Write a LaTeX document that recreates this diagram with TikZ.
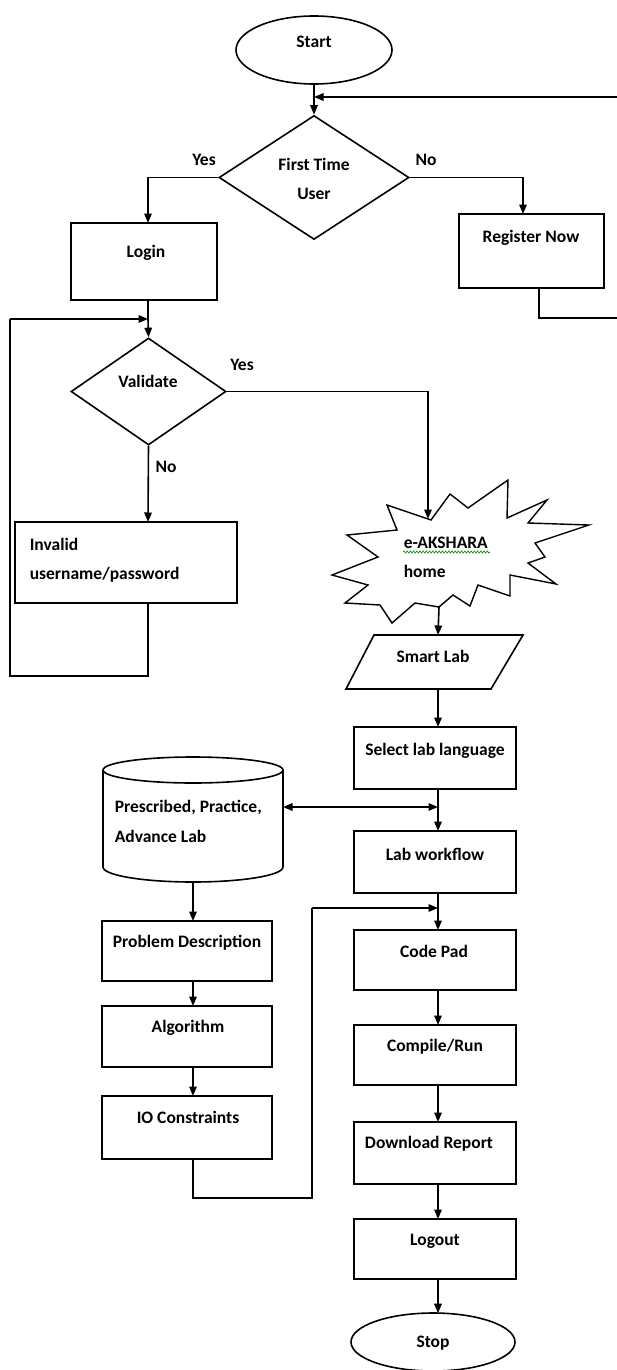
\documentclass[tikz,border=0pt]{standalone}
\usepackage{fontspec}
\setmainfont{Carlito}
\usetikzlibrary{arrows.meta,shapes.geometric,decorations.pathmorphing}
\begin{document}
\begin{tikzpicture}[x=1pt,y=-1pt,
  line width=1.6pt,
  arr/.style={-{Triangle[length=9.5pt,width=7.5pt]}},
  darr/.style={{Triangle[length=9.5pt,width=7.5pt]}-{Triangle[length=9.5pt,width=7.5pt]}},
  box/.style={draw, rectangle, inner sep=0pt},
  term/.style={draw, ellipse, inner sep=0pt},
  decide/.style={draw, diamond, inner sep=0pt},
  lbl/.style={font=\fontsize{17.5}{20}\selectfont\bfseries, inner sep=0pt, anchor=base},
  lblw/.style={lbl, anchor=base west},
]
\useasboundingbox (0,0) rectangle (616,1370);

% ---------- top: start and first-time check ----------
\node[term, minimum width=156pt, minimum height=68pt] (start) at (314,50) {};
\node[lbl] (tstart) at (314,48) {Start};
\coordinate (merge) at (314,97);

\node[decide, aspect=1.53, minimum width=190pt, minimum height=124pt] (ftu) at (314,177.5) {};
\node[lbl] (tftu1) at (314,170) {First Time};
\node[lbl] (tftu2) at (314,199) {User};
\node[lbl] (yes1) at (204,165) {Yes};
\node[lbl] (no1) at (426,165) {No};

\node[box, minimum width=146pt, minimum height=77pt] (login) at (144,261.5) {};
\node[lbl] (tlogin) at (146,257) {Login};
\node[box, minimum width=145pt, minimum height=74pt] (reg) at (531.5,251) {};
\node[lbl] (treg) at (531,242) {Register Now};

\coordinate (regA) at (539,288);
\coordinate (regB) at (539,318);
\coordinate (edgeB) at (624,318);
\coordinate (edgeT) at (624,97);

\draw (start.south) -- (merge);
\draw[arr] (merge) -- (ftu.north);
\draw[arr] (edgeT) -- (merge);
\draw[arr] (ftu.west) -| (148,223);
\draw[arr] (ftu.east) -| (523,214);
\draw (regA) -- (regB) -- (edgeB) -- (edgeT);

% ---------- validation ----------
\coordinate (vin) at (148,319);
\node[decide, aspect=1.45, minimum width=155pt, minimum height=107pt] (val) at (148.5,391.5) {};
\node[lbl] (tval) at (148,387) {Validate};
\node[lbl] (yes2) at (242,370) {Yes};
\node[lbl] (no2) at (166,472) {No};

\node[box, minimum width=222pt, minimum height=81pt] (inv) at (126,562.5) {};
\node[lblw] (tinv1) at (29,550) {Invalid};
\node[lblw] (tinv2) at (29,579) {username/password};
\coordinate (invB) at (148,603);
\coordinate (loopA) at (148,676);
\coordinate (loopB) at (10,676);
\coordinate (loopC) at (10,319);

\draw (148,300) -- (vin);
\draw[arr] (vin) -- (val.north);
\draw[arr] (val.south) -- (148,522);
\draw (invB) -- (loopA) -- (loopB) -- (loopC);
\draw[arr] (loopC) -- (vin);

% ---------- home page ----------
\draw[line width=1.4pt, line join=miter]
  (387,505) -- (431,520) -- (450,494) -- (468,508) -- (508,480) -- (507,518)
  -- (547,500) -- (528,523) -- (589,525) -- (535,543) -- (545,557) -- (528,563)
  -- (556,584) -- (510,575) -- (510,596) -- (478,585) -- (470,606) -- (453,595)
  -- (439,607) -- (415,603) -- (392,623) -- (380,605) -- (345,603) -- (368,585)
  -- (332,575) -- (378,557) -- (347,535) -- (397,530) -- cycle;
\coordinate (homeT) at (428,519);
\coordinate (homeB) at (439,607);
\node[lblw] (thome1) at (403,548) {e-AKSHARA};
\node[lblw] (thome2) at (403,577) {home};
\draw[green!55!black, line width=0.6pt,
  decorate, decoration={snake, amplitude=1.1pt, segment length=3.2pt}]
  (403,552) -- (490,552);

\draw[arr] (val.east) -| (homeT);

% ---------- smart lab ----------
\draw (374,635) -- (523,635) -- (491,689) -- (346,689) -- cycle;
\coordinate (smT) at (438,635);
\coordinate (smB) at (438,689);
\node[lbl] (tsm) at (433,662) {Smart Lab};
\draw[arr] (homeB) -- (smT);

% ---------- right column ----------
\node[box, minimum width=162pt, minimum height=62pt] (sel) at (435,758) {};
\node[lbl] (tsel) at (435,755) {Select lab language};
\node[box, minimum width=162pt, minimum height=62pt] (wf) at (435,862) {};
\node[lbl] (twf) at (435,860) {Lab workflow};
\node[box, minimum width=162pt, minimum height=60pt] (pad) at (435,960) {};
\node[lbl] (tpad) at (434,957) {Code Pad};
\node[box, minimum width=162pt, minimum height=60pt] (run) at (435,1055) {};
\node[lbl] (trun) at (435,1051) {Compile/Run};
\node[box, minimum width=162pt, minimum height=62pt] (dl) at (435,1153) {};
\node[lbl] (tdl) at (429,1148) {Download Report};
\node[box, minimum width=162pt, minimum height=60pt] (out) at (435,1249) {};
\node[lbl] (tout) at (435,1245) {Logout};
\node[term, minimum width=164pt, minimum height=58pt] (stop) at (433,1342) {};
\node[lbl] (tstop) at (433,1347) {Stop};
\coordinate (stopT) at (438,1313.2);

\draw[arr] (smB) -- (438,727);
\coordinate (jdb) at (438,807);
\coordinate (jio) at (438,908);
\draw (438,789) -- (jdb);
\draw[arr] (jdb) -- (438,831);
\draw (438,893) -- (jio);
\draw[arr] (jio) -- (438,930);
\draw[arr] (438,990) -- (438,1025);
\draw[arr] (438,1085) -- (438,1122);
\draw[arr] (438,1184) -- (438,1219);
\draw[arr] (438,1279) -- (stopT);

% ---------- lab store ----------
\draw (103,770) -- (103,867) arc[start angle=180, end angle=0, x radius=90, y radius=15] -- (283,770);
\draw (193,770) ellipse[x radius=90, y radius=13];
\coordinate (dbE) at (283,807);
\coordinate (dbS) at (193,882);
\node[lblw] (tdb1) at (114,812) {Prescribed, Practice,};
\node[lblw] (tdb2) at (114,842) {Advance Lab};
\draw[darr] (dbE) -- (jdb);

% ---------- left column ----------
\node[box, minimum width=170pt, minimum height=60pt] (prob) at (187,951) {};
\node[lbl] (tprob) at (187,947) {Problem Description};
\node[box, minimum width=170pt, minimum height=61pt] (algo) at (187,1036.5) {};
\node[lbl] (talgo) at (188,1032) {Algorithm};
\node[box, minimum width=170pt, minimum height=63pt] (io) at (187,1127.5) {};
\node[lbl] (tio) at (188,1123) {IO Constraints};

\draw[arr] (dbS) -- (193,921);
\draw[arr] (193,981) -- (193,1006);
\draw[arr] (193,1067) -- (193,1096);
\coordinate (ioA) at (193,1198);
\coordinate (ioB) at (312,1198);
\coordinate (ioC) at (312,908);
\draw (193,1159) -- (ioA) -- (ioB) -- (ioC);
\draw[arr] (ioC) -- (jio);
\end{tikzpicture}
\end{document}
